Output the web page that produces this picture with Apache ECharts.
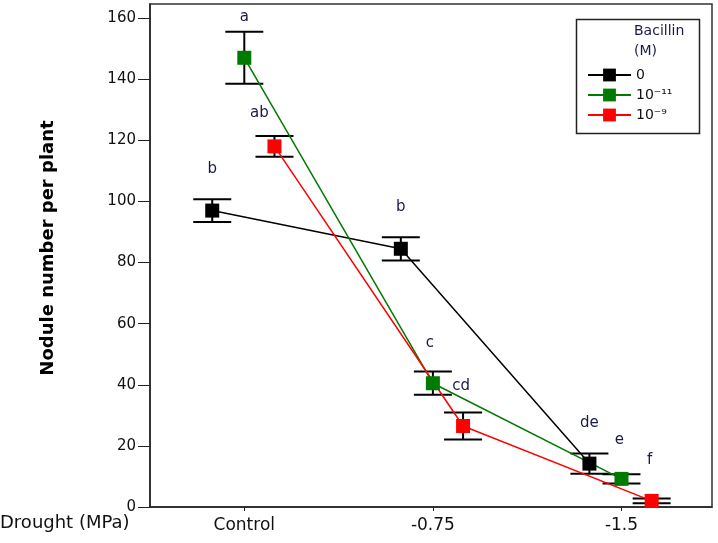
<!DOCTYPE html>
<html>
<head>
<meta charset="utf-8">
<script src="https://cdn.jsdelivr.net/npm/echarts@6/dist/echarts.min.js"></script>
<style>
html,body{margin:0;padding:0;background:#fff;}
#chart{width:718px;height:543px;}
</style>
</head>
<body>
<div id="chart"></div>
<script>
// ---- data ----
const categories = ['Control', '-0.75', '-1.5'];
const seriesNames = ['0', '10\u207B\u00B9\u00B9', '10\u207B\u2079'];
const meanBlack = [97, 84.5, 14.2];
const meanGreen = [147, 40.5, 9.2];
const meanRed = [118, 26.5, 2];
const errBlack = [3.7, 3.8, 3.3];
const errGreen = [8.5, 3.8, 1.5];
const errRed = [3.4, 4.4, 0.8];
const lettersBlack = ['b', 'b', 'de'];
const lettersGreen = ['a', 'c', 'e'];
const lettersRed = ['ab', 'cd', 'f'];
const yTicks = [0, 20, 40, 60, 80, 100, 120, 140, 160];

// ---- layout / style (not data) ----
const groupOffset = [-0.17, 0, 0.16];
const colors = ['#000000', '#007a00', '#ff0000'];
// pixel offsets [dx, dy above upper cap] of the significance letters
const letterPos = [
  [[0, 30], [0, 30], [0, 30]],
  [[0, 15], [-3, 29], [-2, 34]],
  [[-15, 23], [-2, 26], [-2, 38]]
];
const FONT = 'DejaVu Sans';

const means = [meanBlack, meanGreen, meanRed];
const errs = [errBlack, errGreen, errRed];
const letters = [lettersBlack, lettersGreen, lettersRed];

const series = [];
for (let s = 0; s < 3; s++) {
  series.push({
    name: seriesNames[s],
    type: 'line',
    data: means[s].map((v, i) => [i + groupOffset[s], v]),
    symbol: 'rect',
    symbolSize: 14,
    itemStyle: {color: colors[s]},
    lineStyle: {color: colors[s], width: 1.5},
    z: 4,
    animation: false
  });
}
for (let s = 0; s < 3; s++) {
  series.push({
    type: 'custom',
    name: 'err' + s,
    z: 3,
    data: means[s].map((v, i) => [i + groupOffset[s], v, errs[s][i]]),
    renderItem: function (params, api) {
      const x = api.value(0), m = api.value(1), e = api.value(2);
      const top = api.coord([x, m + e]);
      const bot = api.coord([x, m - e]);
      const hw = 19;
      const lt = letters[s][params.dataIndex];
      const off = letterPos[s][params.dataIndex];
      return {
        type: 'group',
        children: [
          {type: 'line', shape: {x1: top[0], y1: top[1], x2: bot[0], y2: bot[1]}, style: {stroke: '#000', lineWidth: 2}},
          {type: 'line', shape: {x1: top[0] - hw, y1: top[1], x2: top[0] + hw, y2: top[1]}, style: {stroke: '#000', lineWidth: 2}},
          {type: 'line', shape: {x1: bot[0] - hw, y1: bot[1], x2: bot[0] + hw, y2: bot[1]}, style: {stroke: '#000', lineWidth: 2}},
          {type: 'text', style: {text: lt, x: top[0] + off[0], y: top[1] - off[1], align: 'center', verticalAlign: 'middle', fill: '#1a1a48', font: '15px "' + FONT + '"'}}
        ]
      };
    },
    animation: false
  });
}

const chart = echarts.init(document.getElementById('chart'));
chart.setOption({
  animation: false,
  backgroundColor: '#fff',
  grid: {left: 150, right: 6, top: 4, bottom: 36, show: true, borderColor: '#333', borderWidth: 1.5, backgroundColor: 'transparent'},
  xAxis: {
    type: 'value', min: -0.5, max: 2.48,
    axisLine: {onZero: false, lineStyle: {color: '#222', width: 1.5}},
    axisTick: {show: true, customValues: [0, 1, 2], length: 4, lineStyle: {color: '#222'}},
    axisLabel: {customValues: [0, 1, 2], formatter: v => categories[Math.round(v)], color: '#111', fontFamily: FONT, fontSize: 17, margin: 10},
    splitLine: {show: false}
  },
  yAxis: {
    type: 'value', min: 0, max: 164.6,
    axisLine: {show: true, onZero: false, lineStyle: {color: '#222', width: 1.5}},
    axisTick: {show: true, customValues: yTicks, length: 12, lineStyle: {color: '#222'}},
    axisLabel: {customValues: yTicks, color: '#111', fontFamily: FONT, fontSize: 15, margin: 14},
    splitLine: {show: false}
  },
  legend: {
    data: seriesNames, orient: 'vertical', left: 582, top: 63,
    itemWidth: 43, itemHeight: 16, itemGap: 6,
    textStyle: {fontFamily: FONT, fontSize: 14, color: '#111', padding: [0, 0, 0, 0]}
  },
  graphic: [
    {type: 'rect', left: 574, top: 17, shape: {width: 123, height: 114}, style: {fill: 'none', stroke: '#222', lineWidth: 1.5}, z: 10},
    {type: 'text', left: 634, top: 24, style: {text: 'Bacillin', fill: '#1a1a48', font: '14px "' + FONT + '"'}, z: 10},
    {type: 'text', left: 634, top: 44, style: {text: '(M)', fill: '#1a1a48', font: '14px "' + FONT + '"'}, z: 10},
    {type: 'text', left: 0, top: 514, style: {text: 'Drought (MPa)', fill: '#111', font: '18px "' + FONT + '"'}, z: 10},
    {type: 'text', x: 48, y: 248, rotation: Math.PI / 2, style: {text: 'Nodule number per plant', align: 'center', verticalAlign: 'middle', fill: '#000', font: 'bold 18px "' + FONT + '"'}, z: 10}
  ],
  series: series
});
</script>
</body>
</html>
